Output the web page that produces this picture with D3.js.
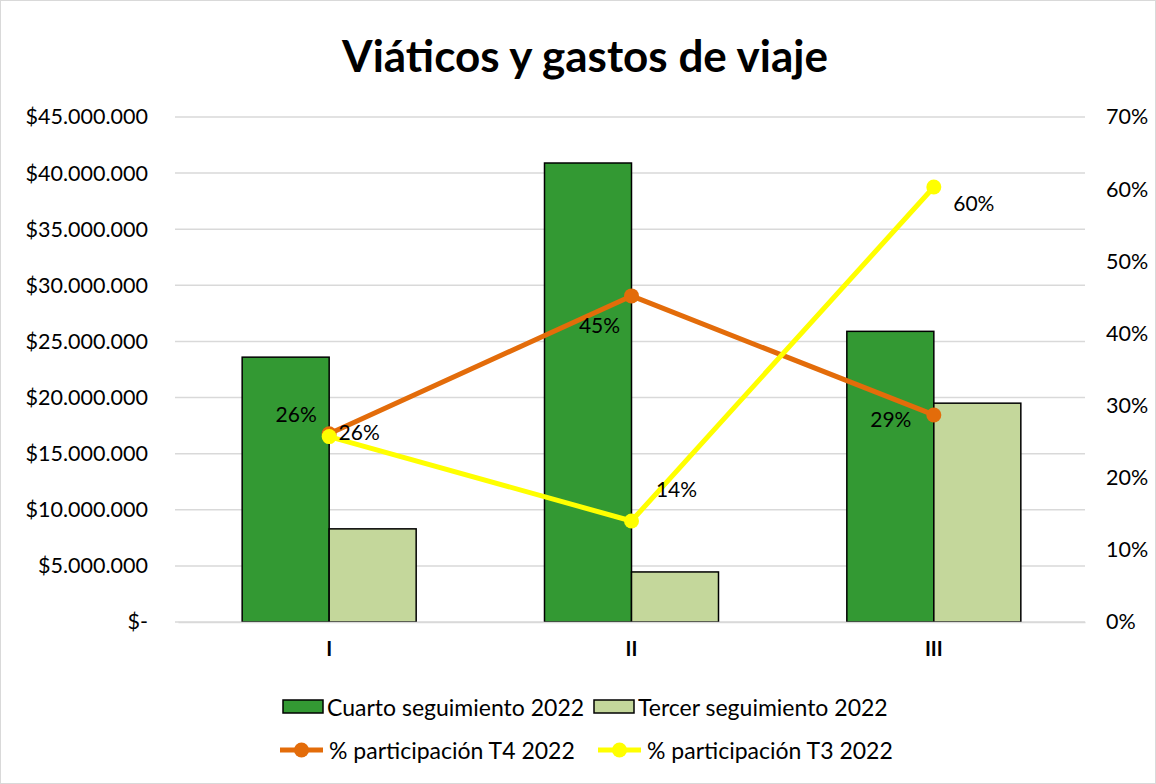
<!DOCTYPE html>
<html><head><meta charset="utf-8">
<script src="https://cdn.jsdelivr.net/npm/d3@7"></script>
<style>body{margin:0;background:#fff}svg{display:block}text{font-family:Lato,"Open Sans",sans-serif;fill:#000}</style>
</head><body><svg id="c" width="1156" height="784"></svg>
<script>
const categories = ["I","II","III"];
const cuarto = [23600000, 40900000, 25900000];
const tercer = [8300000, 4460000, 19500000];
const partT4 = [0.261, 0.452, 0.287];
const partT3 = [0.257, 0.140, 0.603];
const leftTicks = [0,5e6,10e6,15e6,20e6,25e6,30e6,35e6,40e6,45e6];
const rightTicks = [0,0.1,0.2,0.3,0.4,0.5,0.6,0.7];
const seriesNames = ["Cuarto seguimiento 2022","Tercer seguimiento 2022","% participación T4 2022","% participación T3 2022"];
const title = "Viáticos y gastos de viaje";

const colors = {cuarto:"#339933", tercer:"#c4d79b", t4:"#e36c0a", t3:"#ffff00", grid:"#d9d9d9"};
// label offsets (dx, dy) relative to point, in px
const t4LabelOff = [[-33,-20],[-32,29],[-43,4]];
const t3LabelOff = [[30,-5],[45,-33],[40,16]];

const svg = d3.select("#c");
svg.append("rect").attr("x",0.5).attr("y",0.5).attr("width",1155).attr("height",783).attr("fill","#fff").attr("stroke","#d9d9d9");

const L=178, R=1085, T=117, B=622;
const x = d3.scaleBand().domain(categories).range([L,R]);
const yL = d3.scaleLinear().domain([0,45e6]).range([B,T]);
const yR = d3.scaleLinear().domain([0,0.7]).range([B,T]);
const barW = x.bandwidth()/(2+1.475);

// gridlines
svg.append("g").selectAll("line").data(leftTicks).join("line")
  .attr("x1",L-3).attr("x2",R).attr("y1",d=>yL(d)).attr("y2",d=>yL(d))
  .attr("stroke",colors.grid).attr("stroke-width",1.5);

// left axis
const fmtMoney = d => d===0 ? "$-" : "$"+d3.format(",")(d).replace(/,/g,".");
const la = svg.append("g").attr("transform",`translate(${L},0)`)
  .call(d3.axisLeft(yL).tickValues(leftTicks).tickFormat(fmtMoney).tickSize(0).tickPadding(30));
la.select(".domain").remove();
la.selectAll("text").style("font-family","Lato").style("font-size","21.5px").attr("fill","#000");
// right axis
const ra = svg.append("g").attr("transform",`translate(${R},0)`)
  .call(d3.axisRight(yR).tickValues(rightTicks).tickFormat(d3.format(".0%")).tickSize(0).tickPadding(21));
ra.select(".domain").remove();
ra.selectAll("text").style("font-family","Lato").style("font-size","21.5px").attr("fill","#000");

// bars
const g = svg.append("g");
g.selectAll("rect.c").data(cuarto).join("rect").attr("class","c")
  .attr("x",(d,i)=>x(categories[i])+x.bandwidth()/2-barW).attr("width",barW)
  .attr("y",d=>yL(d)).attr("height",d=>B-yL(d))
  .attr("fill",colors.cuarto).attr("stroke","#000").attr("stroke-width",1.5);
g.selectAll("rect.t").data(tercer).join("rect").attr("class","t")
  .attr("x",(d,i)=>x(categories[i])+x.bandwidth()/2).attr("width",barW)
  .attr("y",d=>yL(d)).attr("height",d=>B-yL(d))
  .attr("fill",colors.tercer).attr("stroke","#000").attr("stroke-width",1.5);

// category labels
const xa = svg.append("g").attr("transform",`translate(0,${B})`)
  .call(d3.axisBottom(x).tickSize(0).tickPadding(20));
xa.select(".domain").attr("stroke",colors.grid).attr("stroke-width",1.5);
xa.selectAll("text").style("font-family","Lato").style("font-size","20px").style("font-weight","bold").attr("fill","#000");

// lines
const cx = c => x(c)+x.bandwidth()/2;
const line = d3.line().x((d,i)=>cx(categories[i])).y(d=>yR(d));
function drawSeries(vals, col, off){
  svg.append("path").datum(vals).attr("d",line).attr("fill","none").attr("stroke",col).attr("stroke-width",5).attr("stroke-linejoin","round");
  svg.append("g").selectAll("circle").data(vals).join("circle")
    .attr("cx",(d,i)=>cx(categories[i])).attr("cy",d=>yR(d)).attr("r",7.5).attr("fill",col);
  svg.append("g").selectAll("text").data(vals).join("text")
    .attr("x",(d,i)=>cx(categories[i])+off[i][0]).attr("y",(d,i)=>yR(d)+off[i][1])
    .attr("text-anchor","middle").attr("dominant-baseline","central")
    .style("font-size","21px").text(d=>d3.format(".0%")(d));
}
drawSeries(partT4, colors.t4, t4LabelOff);
drawSeries(partT3, colors.t3, t3LabelOff);

// title
svg.append("text").attr("x",585).attr("y",72).attr("text-anchor","middle")
  .style("font-size","44px").style("font-weight","bold").text(title);

// legend
const leg = svg.append("g");
const row1 = [[283,seriesNames[0],colors.cuarto],[594,seriesNames[1],colors.tercer]];
row1.forEach(([lx,name,col])=>{
  leg.append("rect").attr("x",lx).attr("y",700).attr("width",40).attr("height",13).attr("fill",col).attr("stroke","#000").attr("stroke-width",1.5);
  leg.append("text").attr("x",lx+44).attr("y",707).attr("dominant-baseline","central").style("font-size","23px").text(name);
});
const row2 = [[280,seriesNames[2],colors.t4],[598,seriesNames[3],colors.t3]];
row2.forEach(([lx,name,col])=>{
  leg.append("line").attr("x1",lx).attr("x2",lx+43).attr("y1",750).attr("y2",750).attr("stroke",col).attr("stroke-width",5);
  leg.append("circle").attr("cx",lx+21.5).attr("cy",750).attr("r",7.5).attr("fill",col);
  leg.append("text").attr("x",lx+49).attr("y",750).attr("dominant-baseline","central").style("font-size","23px").text(name);
});
</script></body></html>
